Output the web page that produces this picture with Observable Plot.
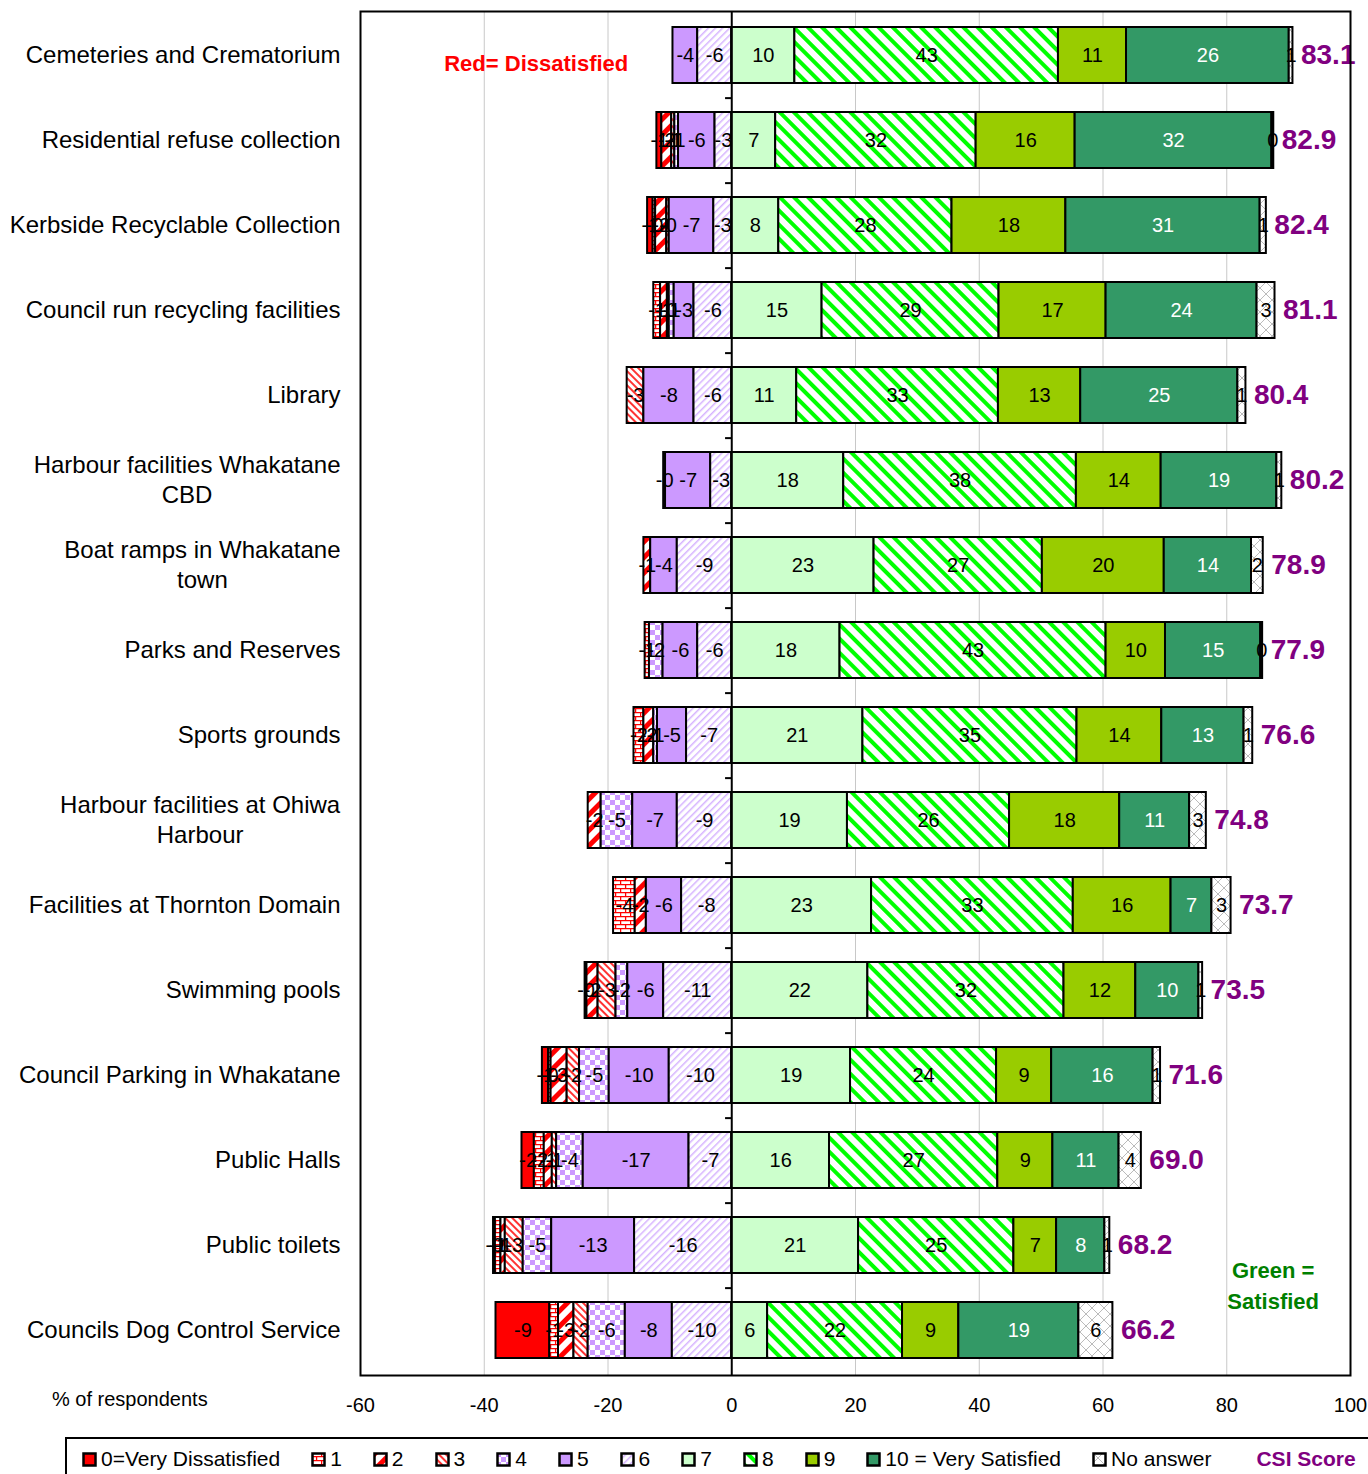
<!DOCTYPE html>
<html>
<head>
<meta charset="utf-8">
<script src="https://cdn.jsdelivr.net/npm/d3@7"></script>
<script src="https://cdn.jsdelivr.net/npm/@observablehq/plot@0.6"></script>
<style>
  body { margin: 0; background: #fff; font-family: Arial, "Liberation Sans", sans-serif; }
  #wrap { position: relative; width: 1368px; height: 1474px; overflow: hidden; background: #fff; }
  #chart { position: absolute; left: 0; top: 0; }
  #xlab { position: absolute; left: 52px; top: 1388px; font-size: 20px; color: #000; white-space: nowrap; }
  #legend { position: absolute; left: 65px; top: 1437px; width: 1340px; height: 44px; border: 2px solid #000; box-sizing: border-box;
            display: flex; align-items: center; padding-left: 15px; font-size: 21px; white-space: nowrap; }
  .item { display: flex; align-items: center; margin-right: 31px; }
  .item svg { margin-right: 4px; }
  .csi { color: #800080; font-weight: bold; margin-left: 14px; }
</style>
</head>
<body>
<svg width="0" height="0" style="position:absolute">
  <defs>
    <pattern id="p1" width="10" height="8" patternUnits="userSpaceOnUse">
      <rect width="10" height="8" fill="#fff"/>
      <path d="M0 0.6H10M0 4.6H10M0.6 0.6V4.6M5.6 4.6V8" stroke="#ff0000" stroke-width="1.3" fill="none"/>
    </pattern>
    <pattern id="p2" width="11" height="11" patternUnits="userSpaceOnUse" patternTransform="rotate(45)">
      <rect width="11" height="11" fill="#fff"/>
      <rect width="5" height="11" fill="#ff0000"/>
    </pattern>
    <pattern id="p3" width="5" height="5" patternUnits="userSpaceOnUse" patternTransform="rotate(-45)">
      <rect width="5" height="5" fill="#fff"/>
      <rect width="2" height="5" fill="#ff3333"/>
    </pattern>
    <pattern id="p4" width="10" height="10" patternUnits="userSpaceOnUse">
      <rect width="10" height="10" fill="#fff"/>
      <rect width="5" height="5" fill="#cc99ff"/>
      <rect x="5" y="5" width="5" height="5" fill="#cc99ff"/>
    </pattern>
    <pattern id="p6" width="5" height="5" patternUnits="userSpaceOnUse" patternTransform="rotate(45)">
      <rect width="5" height="5" fill="#fff"/>
      <rect width="1.5" height="5" fill="#d6b3ff"/>
    </pattern>
    <pattern id="p8" width="10" height="10" patternUnits="userSpaceOnUse" patternTransform="rotate(-45)">
      <rect width="10" height="10" fill="#fff"/>
      <rect width="4" height="10" fill="#00ff00"/>
    </pattern>
    <pattern id="pna" width="12" height="12" patternUnits="userSpaceOnUse">
      <rect width="12" height="12" fill="#fff"/>
      <path d="M0 0L12 12M12 0L0 12" stroke="#bbbbbb" stroke-width="1" fill="none"/>
    </pattern>
  </defs>
</svg>
<div id="wrap">
  <div id="chart"></div>
  <div id="xlab">% of respondents</div>
  <div id="legend"></div>
</div>
<script>
// ---------------- DATA ----------------
const categories = [
  "Cemeteries and Crematorium",
  "Residential refuse collection",
  "Kerbside Recyclable Collection",
  "Council run recycling facilities",
  "Library",
  "Harbour facilities Whakatane\nCBD",
  "Boat ramps in Whakatane\ntown",
  "Parks and Reserves",
  "Sports grounds",
  "Harbour facilities at Ohiwa\nHarbour",
  "Facilities at Thornton Domain",
  "Swimming pools",
  "Council Parking in Whakatane",
  "Public Halls",
  "Public toilets",
  "Councils Dog Control Service"
];
// dissatisfied shares (% of respondents, plotted to the left of 0)
const score0 = [0, 0.8, 0.9, 0, 0, 0.3, 0, 0, 0, 0, 0, 0.3, 1.0, 2.0, 0.3, 8.7];
const score1 = [0, 0, 0.4, 1.1, 0, 0, 0, 0.7, 1.6, 0, 3.5, 0, 0.4, 1.6, 0.9, 1.4];
const score2 = [0, 1.6, 1.8, 1.1, 0, 0, 1.1, 0, 1.6, 2.1, 1.8, 1.8, 2.6, 1.3, 0.7, 2.5];
const score3 = [0, 0.5, 0.4, 0.3, 2.7, 0, 0, 0, 0, 0, 0, 2.9, 2.0, 0.7, 2.9, 2.3];
const score4 = [0, 0.6, 0, 0.8, 0, 0, 0, 2.2, 0.6, 5.1, 0, 1.9, 4.8, 4.3, 4.6, 6.0];
const score5 = [4.0, 5.9, 7.2, 3.2, 8.1, 7.3, 4.3, 5.6, 4.7, 7.2, 5.7, 5.8, 9.7, 17.1, 13.4, 7.6];
const score6 = [5.5, 2.7, 2.9, 6.1, 6.1, 3.4, 8.8, 5.5, 7.3, 8.8, 8.1, 11.0, 10.1, 6.9, 15.7, 9.6];
// satisfied shares (plotted to the right of 0)
const score7 = [10.2, 7.1, 7.6, 14.6, 10.5, 18.1, 23.0, 17.5, 21.2, 18.7, 22.6, 22.0, 19.2, 15.8, 20.5, 5.8];
const score8 = [42.6, 32.4, 28.0, 28.6, 32.6, 37.6, 27.2, 43.0, 34.6, 26.2, 32.6, 31.7, 23.6, 27.2, 25.1, 21.8];
const score9 = [11.0, 16.0, 18.4, 17.3, 13.3, 13.7, 19.7, 9.6, 13.7, 17.8, 15.8, 11.6, 8.9, 8.9, 6.9, 9.1];
const score10 = [26.3, 31.8, 31.4, 24.4, 25.4, 18.7, 14.1, 15.4, 13.3, 11.3, 6.6, 10.2, 16.4, 10.7, 7.8, 19.4];
const noAnswer = [0.6, 0.3, 1.0, 2.9, 1.3, 0.8, 1.9, 0.3, 1.4, 2.7, 3.1, 0.6, 1.2, 3.6, 0.8, 5.5];
const csiScore = [83.1, 82.9, 82.4, 81.1, 80.4, 80.2, 78.9, 77.9, 76.6, 74.8, 73.7, 73.5, 71.6, 69.0, 68.2, 66.2];
const levelNames = ["0=Very Dissatisfied", "1", "2", "3", "4", "5", "6", "7", "8", "9", "10 = Very Satisfied", "No answer"];
const xTicks = [-60, -40, -20, 0, 20, 40, 60, 80, 100];

// ---------------- STYLE ----------------
const fills = ["#ff0000", "url(#p1)", "url(#p2)", "url(#p3)", "url(#p4)", "#cc99ff", "url(#p6)",
               "#ccffcc", "url(#p8)", "#99cc00", "#339966", "url(#pna)"];
const levelData = [score0, score1, score2, score3, score4, score5, score6, score7, score8, score9, score10, noAnswer];

// ---------------- TABLE ----------------
const segs = [];
const posEnd = [];
categories.forEach((cat, i) => {
  let acc = 0;
  for (const k of [6, 5, 4, 3, 2, 1, 0]) {
    const v = levelData[k][i];
    if (v > 0) {
      segs.push({cat, k, x1: -acc, x2: -(acc + v), label: "-" + Math.round(v)});
      acc += v;
    }
  }
  acc = 0;
  for (const k of [7, 8, 9, 10, 11]) {
    const v = levelData[k][i];
    if (v > 0) {
      segs.push({cat, k, x1: acc, x2: acc + v, label: String(Math.round(v))});
      acc += v;
    }
  }
  posEnd.push(acc);
});
const idx = d3.range(categories.length);

const W = 1368, H = 1432, mt = 11, mb = 57, ml = 360, mr = 18;
const step = (H - mt - mb) / categories.length;

const marks = [
  Plot.ruleX(xTicks.filter(t => t !== 0 && t !== -60 && t !== 100), {stroke: "#c8c8c8", strokeWidth: 1}),
];
for (let k = 0; k < 12; k++) {
  marks.push(Plot.barX(segs.filter(s => s.k === k), {
    x1: "x1", x2: "x2", y: "cat", fill: fills[k], stroke: "#000", strokeWidth: 2
  }));
}
marks.push(
  Plot.ruleX([0], {stroke: "#000", strokeWidth: 2}),
  Plot.ruleY(categories.slice(0, categories.length - 1), {y: d => d, x1: -1, x2: 0, dy: step / 2, stroke: "#000", strokeWidth: 2}),
  Plot.text(segs.filter(s => s.k !== 10), {
    x: d => (d.x1 + d.x2) / 2, y: "cat", text: "label", fill: "#000", fontSize: 20
  }),
  Plot.text(segs.filter(s => s.k === 10), {
    x: d => (d.x1 + d.x2) / 2, y: "cat", text: "label", fill: "#fff", fontSize: 20
  }),
  Plot.text(idx, {
    x: i => posEnd[i], y: i => categories[i], text: i => csiScore[i].toFixed(1),
    textAnchor: "start", dx: 8, fill: "#800080", fontWeight: "bold", fontSize: 28
  }),
  Plot.text(categories, {
    y: d => d, frameAnchor: "left", dx: -20, dy: -2, textAnchor: "end", fontSize: 24,
    lineHeight: 1.22, fill: "#000", className: "ylab"
  }),
  Plot.text(["Red= Dissatisfied"], {
    x: -31.6, y: () => categories[0], dy: 8, text: d => d, fill: "#ff0000",
    fontWeight: "bold", fontSize: 22
  }),
  Plot.text(["Green =\nSatisfied"], {
    x: 87.5, y: () => categories[categories.length - 1], dy: -47, text: d => d,
    fill: "#008000", fontWeight: "bold", fontSize: 22, lineHeight: 1.4
  }),
  Plot.frame({stroke: "#000", strokeWidth: 2})
);

const chart = Plot.plot({
  width: W, height: H,
  marginTop: mt, marginBottom: mb, marginLeft: ml, marginRight: mr,
  style: {fontFamily: "Arial, 'Liberation Sans', sans-serif", background: "#fff", overflow: "visible"},
  x: {domain: [-60, 100], ticks: xTicks, tickSize: 0, tickPadding: 22, label: null, tickFormat: d => String(d)},
  y: {domain: categories, paddingInner: 0.34, paddingOuter: 0.17, axis: null},
  marks
});
document.getElementById("chart").appendChild(chart);
d3.select(chart).selectAll("g[aria-label='x-axis tick label'] text").style("font-size", "20px").attr("fill", "#000");
d3.select(chart).selectAll("g[aria-label='x-axis tick label']").style("font-size", "20px");

// center multi-line category labels under their first line (right-aligned block)
d3.select(chart).selectAll("g.ylab text").each(function () {
  const tspans = this.querySelectorAll("tspan");
  if (tspans.length > 1) {
    const w = this.getBBox().width;
    this.setAttribute("text-anchor", "middle");
    tspans.forEach(t => t.setAttribute("x", -w / 2));
  }
});

// ---------------- LEGEND ----------------
const legend = d3.select("#legend");
levelNames.forEach((name, k) => {
  const item = legend.append("div").attr("class", "item");
  const sw = item.append("svg").attr("width", 15).attr("height", 15);
  sw.append("rect").attr("x", 1.5).attr("y", 1.5).attr("width", 12).attr("height", 12)
    .attr("fill", fills[k]).attr("stroke", "#000").attr("stroke-width", 2.5);
  item.append("span").text(name);
});
legend.append("div").attr("class", "item csi").text("CSI Score");
</script>
</body>
</html>
